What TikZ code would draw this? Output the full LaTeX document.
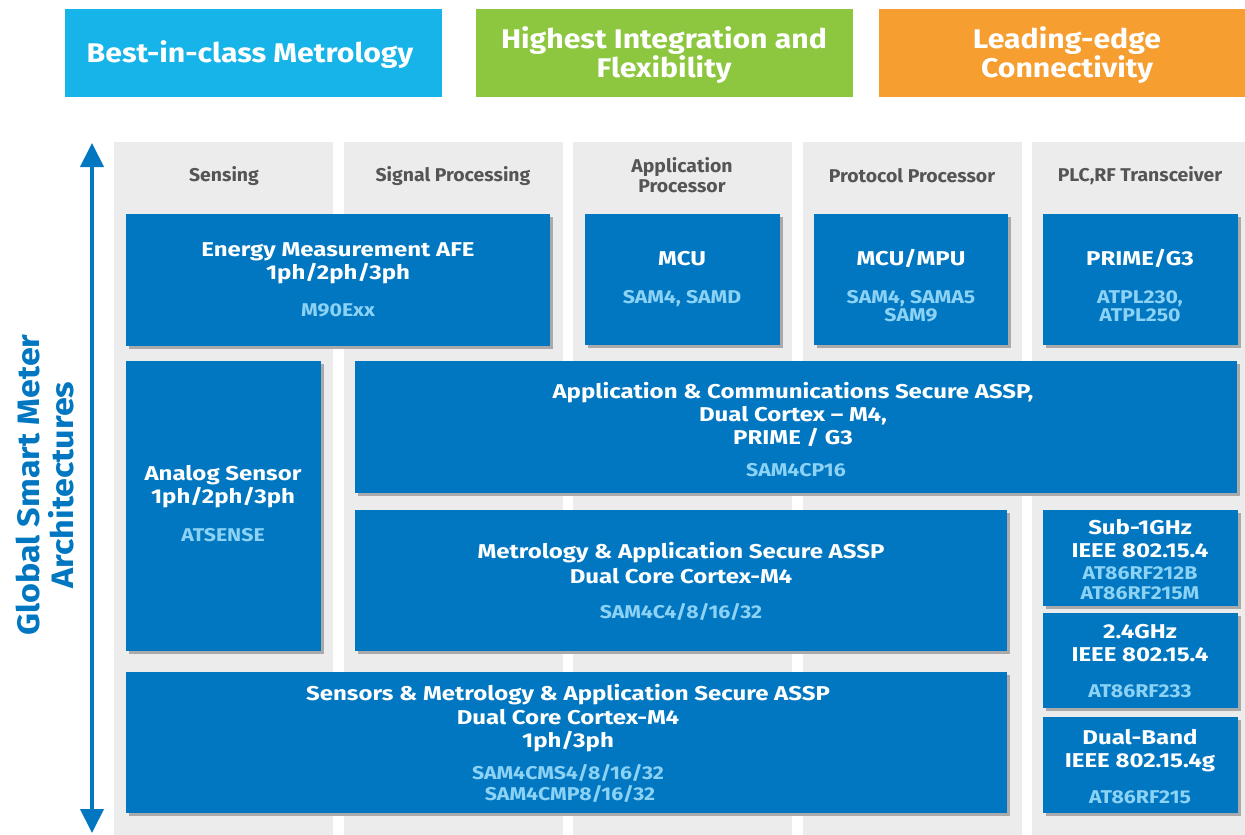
\documentclass[tikz,border=0pt]{standalone}
\usepackage{fontspec}
\setmainfont{Fira Sans}
\newfontfamily\hdrfont[FakeStretch=1.12]{Fira Sans}
\newfontfamily\primfont[FakeStretch=1.2]{Fira Sans}
\newfontfamily\secfont[FakeStretch=1.15]{Fira Sans}
\newfontfamily\vertfont[FakeStretch=1.1]{Fira Sans}
\newfontfamily\headfont[FakeStretch=1.05]{Fira Sans}
\usetikzlibrary{arrows.meta,shadows}
\definecolor{hdrblue}{RGB}{22,180,232}
\definecolor{hdrgreen}{RGB}{141,198,63}
\definecolor{hdrorange}{RGB}{247,158,48}
\definecolor{boxblue}{RGB}{0,119,192}
\definecolor{subblue}{RGB}{140,210,245}
\definecolor{colgray}{RGB}{236,236,236}
\definecolor{headgray}{RGB}{85,85,85}
\definecolor{shadowgray}{RGB}{170,170,170}
\tikzset{
  hdr/.style={inner sep=0pt,outer sep=0pt,minimum width=377pt,minimum height=88pt},
  hdrtxt/.style={inner sep=0pt,text=white,font=\hdrfont\fontsize{27}{29}\selectfont\bfseries,align=center},
  colbg/.style={fill=colgray,inner sep=0pt,outer sep=0pt,minimum width=219pt,minimum height=700pt},
  colhead/.style={text=headgray,font=\headfont\fontsize{18.5}{20}\selectfont\bfseries,align=center,inner sep=0pt},
  bbox/.style={fill=boxblue,inner sep=0pt,outer sep=0pt,drop shadow={shadow xshift=3pt,shadow yshift=-3pt,fill=shadowgray,opacity=1}},
  ptxt/.style={text=white,font=\primfont\fontsize{20}{23}\selectfont\bfseries,anchor=base,inner sep=0pt},
  stxt/.style={text=subblue,font=\secfont\fontsize{18.5}{20}\selectfont\bfseries,anchor=base,inner sep=0pt},
}
\begin{document}
\begin{tikzpicture}[x=1pt,y=-1pt]
\useasboundingbox (0,0) rectangle (1245,835);
% header boxes
\node[hdr,fill=hdrblue] (h1) at (253.5,53) {};
\node[hdr,fill=hdrgreen] (h2) at (664.5,53) {};
\node[hdr,fill=hdrorange] (h3) at (1067.5,53) {};
\node[hdrtxt] (h1t) at (250,55) {Best-in-class Metrology};
\node[hdrtxt] (h2t) at (664,55) {Highest Integration and\\Flexibility};
\node[hdrtxt] (h3t) at (1067,55) {Leading-edge\\Connectivity};
% gray columns
\node[colbg] (c1) at (223.5,492) {};
\node[colbg] (c2) at (453.5,492) {};
\node[colbg] (c3) at (682.5,492) {};
\node[colbg] (c4) at (912.5,492) {};
\node[colbg] (c5) at (1141.5,492) {};
% column headings
\node[colhead] (t1) at (224,176) {Sensing};
\node[colhead] (t2) at (453,176) {Signal Processing};
\node[colhead] (t3) at (682,175) {Application\\Processor};
\node[colhead] (t4) at (912,176) {Protocol Processor};
\node[colhead] (t5) at (1140,176) {PLC,RF Transceiver};
% arrow
\coordinate (atop) at (92,143);
\coordinate (abot) at (92,833);
\draw[boxblue,line width=4pt,{Triangle[width=23pt,length=24pt]}-{Triangle[width=23pt,length=24pt]}] (atop) -- (abot);
\node[rotate=90,text=boxblue,font=\vertfont\fontsize{31}{34}\selectfont\bfseries,align=center,inner sep=0pt] (vt) at (45,485) {Global Smart Meter\\Architectures};
% blue boxes
\node[bbox,minimum width=424pt,minimum height=132pt] (afe) at (338,280) {};
\node[bbox,minimum width=195pt,minimum height=131pt] (mcu) at (682.5,279.5) {};
\node[bbox,minimum width=194pt,minimum height=131pt] (mpu) at (911,279.5) {};
\node[bbox,minimum width=195pt,minimum height=131pt] (prime) at (1140.5,279.5) {};
\node[bbox,minimum width=195pt,minimum height=290pt] (asens) at (223.5,506) {};
\node[bbox,minimum width=882pt,minimum height=132pt] (acomm) at (796,427) {};
\node[bbox,minimum width=652pt,minimum height=141pt] (metro) at (681,580.5) {};
\node[bbox,minimum width=881pt,minimum height=141pt] (senmet) at (566.5,742.5) {};
\node[bbox,minimum width=195pt,minimum height=96pt] (sub1) at (1140.5,558) {};
\node[bbox,minimum width=195pt,minimum height=95pt] (ghz24) at (1140.5,660.5) {};
\node[bbox,minimum width=195pt,minimum height=96pt] (dualb) at (1140.5,765) {};
% texts
\node[ptxt] (afe1) at (338,256) {Energy Measurement AFE};
\node[ptxt] (afe2) at (338,279) {1ph/2ph/3ph};
\node[stxt] (afe3) at (338,316) {M90Exx};
\node[ptxt] (mcu1) at (682,265) {MCU};
\node[stxt] (mcu2) at (682,303) {SAM4, SAMD};
\node[ptxt] (mpu1) at (911,265) {MCU/MPU};
\node[stxt] (mpu2) at (911,303) {SAM4, SAMA5};
\node[stxt] (mpu3) at (911,321) {SAM9};
\node[ptxt] (pr1) at (1140,265) {PRIME/G3};
\node[stxt] (pr2) at (1140,303) {ATPL230,};
\node[stxt] (pr3) at (1140,321) {ATPL250};
\node[ptxt] (as1) at (223,480) {Analog Sensor};
\node[ptxt] (as2) at (223,503) {1ph/2ph/3ph};
\node[stxt] (as3) at (223,541) {ATSENSE};
\node[ptxt] (ac1) at (793,398) {Application \& Communications Secure ASSP,};
\node[ptxt] (ac2) at (793,421) {Dual Cortex – M4,};
\node[ptxt] (ac3) at (793,444) {PRIME / G3};
\node[stxt] (ac4) at (796,476) {SAM4CP16};
\node[ptxt] (me1) at (681,558) {Metrology \& Application Secure ASSP};
\node[ptxt] (me2) at (681,583) {Dual Core Cortex-M4};
\node[stxt] (me3) at (681,618) {SAM4C4/8/16/32};
\node[ptxt] (sm1) at (568,700) {Sensors \& Metrology \& Application Secure ASSP};
\node[ptxt] (sm2) at (568,724) {Dual Core Cortex-M4};
\node[ptxt] (sm3) at (568,747) {1ph/3ph};
\node[stxt] (sm4) at (568,779) {SAM4CMS4/8/16/32};
\node[stxt] (sm5) at (570,800) {SAM4CMP8/16/32};
\node[ptxt] (s11) at (1140,534) {Sub-1GHz};
\node[ptxt] (s12) at (1140,557) {IEEE 802.15.4};
\node[stxt] (s13) at (1140,579) {AT86RF212B};
\node[stxt] (s14) at (1140,599) {AT86RF215M};
\node[ptxt] (g1) at (1140,638) {2.4GHz};
\node[ptxt] (g2) at (1140,661) {IEEE 802.15.4};
\node[stxt] (g3) at (1140,697) {AT86RF233};
\node[ptxt] (d1) at (1140,744) {Dual-Band};
\node[ptxt] (d2) at (1140,767) {IEEE 802.15.4g};
\node[stxt] (d3) at (1140,803) {AT86RF215};
\end{tikzpicture}
\end{document}
